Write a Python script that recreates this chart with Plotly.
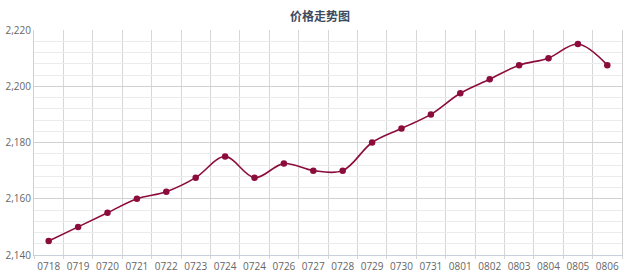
import plotly.graph_objects as go

dates = ["0718", "0719", "0720", "0721", "0722", "0723", "0724", "0724", "0726", "0727",
         "0728", "0729", "0730", "0731", "0801", "0802", "0803", "0804", "0805", "0806"]
prices = [2145, 2150, 2155, 2160, 2162.5, 2167.5, 2175, 2167.5, 2172.5, 2170,
          2170, 2180, 2185, 2190, 2197.5, 2202.5, 2207.5, 2210, 2215, 2207.5]
y_ticks = [2140, 2160, 2180, 2200, 2220]
y_labels = ["2,140", "2,160", "2,180", "2,200", "2,220"]

xs = list(range(len(dates)))
color = "#8c0c3c"

fig = go.Figure()
fig.add_trace(go.Scatter(
    x=xs, y=prices, mode="lines+markers",
    line=dict(color=color, width=1.6, shape="spline", smoothing=1.0),
    marker=dict(color=color, size=6.5),
    showlegend=False,
))

fig.update_layout(
    width=640, height=279,
    margin=dict(l=34, r=18, t=30, b=24),
    paper_bgcolor="white", plot_bgcolor="white",
    title=dict(text="<b>价格走势图</b>", x=0.5, xanchor="center", y=0.94, yanchor="middle",
               font=dict(family="Noto Sans CJK SC", size=12, color="#3b4a5e")),
    font=dict(family="Open Sans, Noto Sans CJK SC", size=10, color="#666666"),
)
fig.update_xaxes(
    range=[-0.5, len(dates) - 0.5],
    tickmode="array", tickvals=xs, ticktext=dates,
    showgrid=False, zeroline=False, automargin=False,
    showline=True, linecolor="#c8d0dc", linewidth=1, mirror=False,
    ticks="", ticklabelstandoff=2, tickfont=dict(size=10, color="#666666"),
    minor=dict(tick0=-0.5, dtick=1, showgrid=True, gridcolor="#d6d6d6", gridwidth=1,
               ticks="outside", ticklen=3, tickcolor="#d6d6d6"),
    fixedrange=True,
)
fig.update_yaxes(
    range=[2140, 2220], automargin=False,
    tickmode="array", tickvals=y_ticks, ticktext=y_labels,
    showgrid=True, gridcolor="#d0d0d0", gridwidth=1,
    zeroline=False, showline=True, linecolor="#d0d0d0", mirror=True,
    ticks="", tickfont=dict(size=10, color="#666666"),
    minor=dict(dtick=4, tick0=2140, showgrid=True, gridcolor="#ebebeb", gridwidth=1),
    fixedrange=True,
)
fig.write_html("out.html")
